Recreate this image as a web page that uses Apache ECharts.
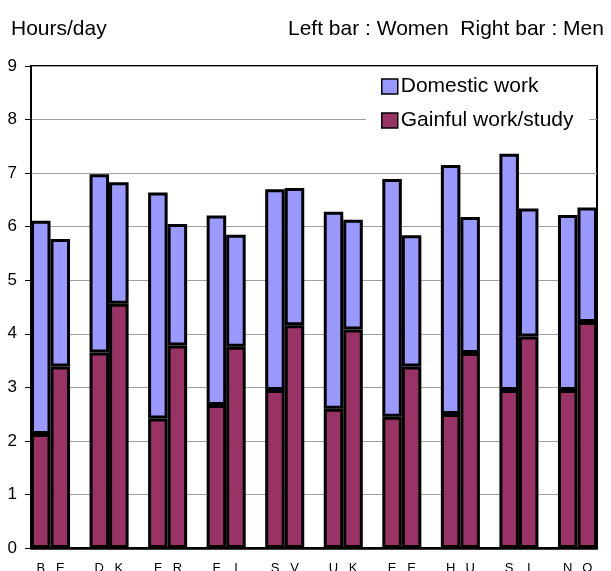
<!DOCTYPE html>
<html>
<head>
<meta charset="utf-8">
<script src="https://cdn.jsdelivr.net/npm/echarts@6/dist/echarts.min.js"></script>
<style>
  html, body { margin: 0; padding: 0; background: #fff; }
  #chart { width: 611px; height: 571px; }
</style>
</head>
<body>
<div id="chart"></div>
<script>
// country codes, left bar = women, right bar = men
var countries = ['BE', 'DK', 'FR', 'FI', 'SV', 'UK', 'EE', 'HU', 'SI', 'NO'];
var womenGainful  = [2.13, 3.65, 2.42, 2.67, 2.95, 2.60, 2.45, 2.50, 2.95, 2.95];
var womenDomestic = [3.98, 3.33, 4.22, 3.54, 3.75, 3.68, 4.44, 4.65, 4.41, 3.27];
var menGainful    = [3.39, 4.56, 3.78, 3.76, 4.16, 4.08, 3.39, 3.64, 3.95, 4.22];
var menDomestic   = [2.38, 2.27, 2.27, 2.09, 2.56, 2.05, 2.45, 2.54, 2.39, 2.14];

// one slot per bar, plus an empty slot between countries
var slots = [], gainful = [], domestic = [];
for (var i = 0; i < countries.length; i++) {
  slots.push(countries[i].charAt(0), countries[i].charAt(1));
  gainful.push(womenGainful[i], menGainful[i]);
  domestic.push(womenDomestic[i], menDomestic[i]);
  if (i < countries.length - 1) {
    slots.push('');
    gainful.push('-');
    domestic.push('-');
  }
}

var font = 'Liberation Sans, Arial, sans-serif';
var myChart = echarts.init(document.getElementById('chart'));
var option = {
  animation: false,
  textStyle: { fontFamily: font },
  title: [
    { text: 'Hours/day', left: 6, top: 14,
      textStyle: { fontSize: 21, fontWeight: 'normal', color: '#000', fontFamily: font } },
    { text: 'Left bar : Women  Right bar : Men', left: 283, top: 14,
      textStyle: { fontSize: 21, fontWeight: 'normal', color: '#000', fontFamily: font } }
  ],
  legend: {
    orient: 'vertical',
    left: 366,
    top: 67,
    padding: [9, 16, 10, 15],
    backgroundColor: '#fff',
    itemWidth: 16,
    itemHeight: 15,
    itemGap: 13,
    icon: 'rect',
    itemStyle: { borderWidth: 1.5, borderColor: '#000' },
    textStyle: { fontSize: 21, color: '#000', padding: [0, 0, 0, -2] },
    data: ['Domestic work', 'Gainful work/study']
  },
  grid: {
    left: 31, right: 14, top: 66, bottom: 23,
    outerBoundsMode: 'none',
    show: true, borderColor: '#000', borderWidth: 2
  },
  xAxis: {
    type: 'category',
    data: slots,
    axisLine: { lineStyle: { color: '#000', width: 2.5 } },
    axisTick: { show: false },
    axisLabel: { interval: 0, fontSize: 13, color: '#000', margin: 14 }
  },
  yAxis: {
    type: 'value',
    min: 0, max: 9, interval: 1,
    axisLine: { show: true, lineStyle: { color: '#000', width: 2 } },
    axisTick: { show: true, length: 6, lineStyle: { color: '#000', width: 1 } },
    axisLabel: { fontSize: 17, color: '#000', margin: 14 },
    splitLine: { lineStyle: { color: '#a0a0a0', width: 1 } }
  },
  series: [
    {
      name: 'Gainful work/study',
      type: 'bar',
      stack: 'h',
      barCategoryGap: '0%',
      data: gainful,
      itemStyle: { color: '#993366', borderColor: '#000', borderWidth: 3 }
    },
    {
      name: 'Domestic work',
      type: 'bar',
      stack: 'h',
      barCategoryGap: '0%',
      data: domestic,
      itemStyle: { color: '#9999ff', borderColor: '#000', borderWidth: 3 }
    }
  ]
};
myChart.setOption(option);
</script>
</body>
</html>
